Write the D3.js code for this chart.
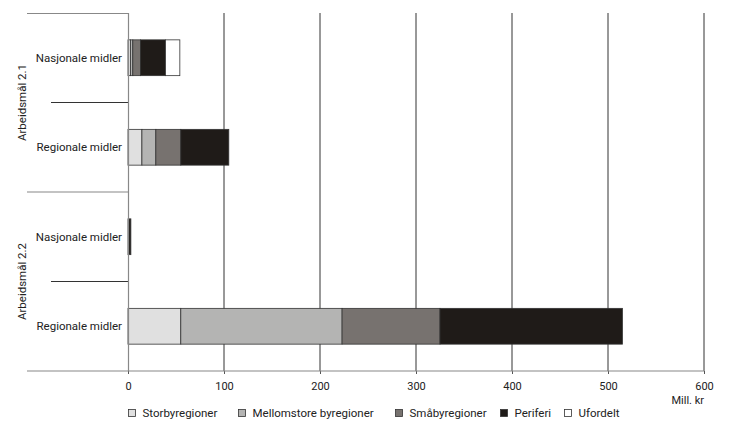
<!DOCTYPE html>
<html>
<head>
<meta charset="utf-8">
<script src="https://cdn.jsdelivr.net/npm/d3@7"></script>
<style>
  body { margin: 0; background: #fff; }
  svg text { font-family: Roboto, "Open Sans", sans-serif; fill: #222; }
</style>
</head>
<body>
<div id="chart"></div>
<script>
// chart values (Mill. kr)
const groups = ["Arbeidsmål 2.1", "Arbeidsmål 2.2"];
const rows = ["Nasjonale midler", "Regionale midler"];
const series = ["Storbyregioner", "Mellomstore byregioner", "Småbyregioner", "Periferi", "Ufordelt"];
const storby   = [2.5, 14.5, 0, 55];
const mellom   = [2.5, 14.5, 0, 168];
const smaaby   = [8, 26, 0, 102];
const periferi = [26, 50, 3, 190];
const ufordelt = [15, 0, 0, 0];
const xTicks = [0, 100, 200, 300, 400, 500, 600];
const colors = ["#e0e0e0", "#b4b4b3", "#77726f", "#1f1b18", "#ffffff"];

const width = 730, height = 434;
const margin = { top: 13, right: 26, bottom: 63, left: 128 };
const innerW = width - margin.left - margin.right;
const innerH = height - margin.top - margin.bottom;

// one key per bar: group index + row
const keys = [];
groups.forEach((g, gi) => rows.forEach(r => keys.push(gi + "|" + r)));
const table = keys.map((k, i) => ({
  key: k,
  Storbyregioner: storby[i],
  "Mellomstore byregioner": mellom[i],
  "Småbyregioner": smaaby[i],
  Periferi: periferi[i],
  Ufordelt: ufordelt[i]
}));
const stacked = d3.stack().keys(series)(table);

const svg = d3.select("#chart").append("svg")
  .attr("width", width).attr("height", height);
const g = svg.append("g").attr("transform", `translate(${margin.left},${margin.top})`);

const x = d3.scaleLinear().domain([0, 600]).range([0, innerW]);
const y = d3.scaleBand().domain(keys).range([0, innerH]).paddingInner(0.6).paddingOuter(0.3);
const yGroup = d3.scaleBand().domain(groups).range([0, innerH]);

// vertical grid lines
g.selectAll(".grid").data(xTicks.slice(1)).join("line")
  .attr("x1", d => x(d)).attr("x2", d => x(d))
  .attr("y1", 0).attr("y2", innerH)
  .attr("stroke", "#333").attr("stroke-width", 1);

// left frame: top line, group separators, row separators
const leftX = 27 - margin.left;
g.append("line").attr("x1", leftX).attr("x2", 0).attr("y1", 0.5).attr("y2", 0.5)
  .attr("stroke", "#888").attr("stroke-width", 1.2);
g.append("line").attr("x1", leftX).attr("x2", 0)
  .attr("y1", yGroup(groups[1])).attr("y2", yGroup(groups[1]))
  .attr("stroke", "#888").attr("stroke-width", 1.2);
groups.forEach(gr => {
  const yy = yGroup(gr) + yGroup.bandwidth() / 2;
  g.append("line").attr("x1", 51 - margin.left).attr("x2", 0)
    .attr("y1", yy).attr("y2", yy).attr("stroke", "#333").attr("stroke-width", 1);
});

// bars
g.selectAll(".layer").data(stacked).join("g")
  .attr("fill", (d, i) => colors[i])
  .selectAll("rect").data(d => d.filter(p => p[1] - p[0] > 0)).join("rect")
  .attr("x", d => x(d[0]))
  .attr("width", d => x(d[1]) - x(d[0]))
  .attr("y", d => y(d.data.key))
  .attr("height", y.bandwidth())
  .attr("stroke", "#333").attr("stroke-width", 0.8);

// y axis line at 0
g.append("line").attr("x1", 0.5).attr("x2", 0.5).attr("y1", 0).attr("y2", innerH)
  .attr("stroke", "#888").attr("stroke-width", 1.2);

// row labels
g.selectAll(".rowlab").data(keys).join("text")
  .attr("x", -6).attr("y", d => y(d) + y.bandwidth() / 2)
  .attr("dy", "0.35em").attr("text-anchor", "end")
  .attr("font-size", 11.5).text(d => d.split("|")[1]);

// group labels, rotated
g.selectAll(".grplab").data(groups).join("text")
  .attr("transform", d => `translate(${22 - margin.left},${yGroup(d) + yGroup.bandwidth() / 2}) rotate(-90)`)
  .attr("dy", "0.35em")
  .attr("text-anchor", "middle").attr("font-size", 11.5).text(d => d);

// x axis
const xAxis = g.append("g").attr("transform", `translate(0,${innerH})`)
  .call(d3.axisBottom(x).tickValues(xTicks).tickSize(3).tickPadding(8).tickFormat(d3.format("d")));
xAxis.select(".domain").remove();
xAxis.selectAll(".tick line").attr("stroke", "#555");
xAxis.selectAll("text").attr("font-size", 11).attr("fill", "#222")
  .style("font-family", "Roboto, 'Open Sans', sans-serif");
g.append("line").attr("x1", leftX).attr("x2", innerW).attr("y1", innerH).attr("y2", innerH)
  .attr("stroke", "#888").attr("stroke-width", 1.2);

g.append("text").attr("x", innerW).attr("y", innerH + 33)
  .attr("text-anchor", "end").attr("font-size", 11).text("Mill. kr");

// legend
const legendX = [128, 238, 395, 500, 564];
const legend = svg.append("g").attr("transform", "translate(0,413)");
const li = legend.selectAll("g").data(series).join("g")
  .attr("transform", (d, i) => `translate(${legendX[i]},0)`);
li.append("rect").attr("x", 0.5).attr("y", -3.5).attr("width", 7).attr("height", 7)
  .attr("fill", (d, i) => colors[i]).attr("stroke", "#333").attr("stroke-width", 0.8);
li.append("text").attr("x", 14.5).attr("dy", "0.35em").attr("font-size", 11.5).text(d => d);
</script>
</body>
</html>
